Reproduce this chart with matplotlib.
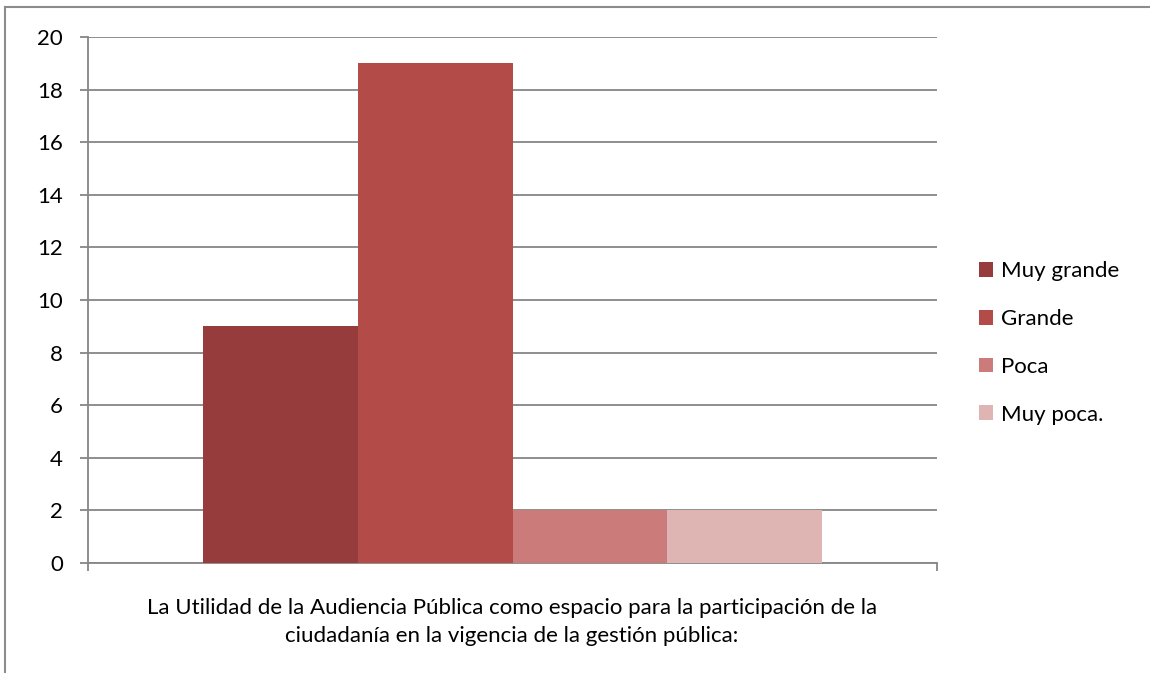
import numpy as np
import matplotlib
matplotlib.use('Agg')
from matplotlib import pyplot as plt
from matplotlib.patches import Patch

plt.rcParams['font.family'] = ['Lato', 'DejaVu Sans']

series = ['Muy grande', 'Grande', 'Poca', 'Muy poca.']
values = [9, 19, 2, 2]
colors = ['#963c3c', '#b34b48', '#cb7b79', '#dfb5b4']
category = 'La Utilidad de la Audiencia Pública como espacio para la participación de la\nciudadanía en la vigencia de la gestión pública:'
yticks = [0, 2, 4, 6, 8, 10, 12, 14, 16, 18, 20]

fig = plt.figure(figsize=(11.5, 6.73), dpi=100)
ax = fig.add_axes([88/1150, 1-563/673, (937-88)/1150, (563-37)/673])

grey = '#868686'
bw = 0.729 / len(series)
x0 = -bw * len(series) / 2 + bw / 2
for i, (s, v, c) in enumerate(zip(series, values, colors)):
    ax.bar(x0 + i*bw, v, width=bw, color=c, zorder=3, label=s)

ax.set_xlim(-0.5, 0.5)
ax.set_ylim(0, 20)
ax.set_yticks(yticks)
ax.yaxis.grid(True, color=grey, linewidth=1.3, zorder=0)
ax.tick_params(axis='y', length=6, width=1.3, color=grey, labelsize=16, pad=12)
ax.set_xticks([-0.5, 0.5])
ax.set_xticklabels(['', ''])
ax.tick_params(axis='x', length=6, width=1.3, color=grey)
for sp in ['top', 'right']:
    ax.spines[sp].set_visible(False)
for sp in ['left', 'bottom']:
    ax.spines[sp].set_color(grey)
    ax.spines[sp].set_linewidth(1.3)

fig.text(512/1150, 1-622/673, category, ha='center', va='center',
         fontsize=16, linespacing=1.5)

handles = [Patch(facecolor=c, edgecolor='none') for c in colors]
fig.legend(handles, series, loc='center left', bbox_to_anchor=(959/1150, 1-343/673),
           frameon=False, fontsize=16, handlelength=0.65, handleheight=0.65,
           handletextpad=0.35, labelspacing=1.25)

# outer chart frame (left and top edges visible)
fig.add_artist(plt.Line2D([5/1150, 5/1150], [0, 1-7/673], color='#8c8c8c', linewidth=1.5))
fig.add_artist(plt.Line2D([5/1150, 1], [1-7/673, 1-7/673], color='#8c8c8c', linewidth=1.5))

fig.savefig('out.png', dpi=100)
